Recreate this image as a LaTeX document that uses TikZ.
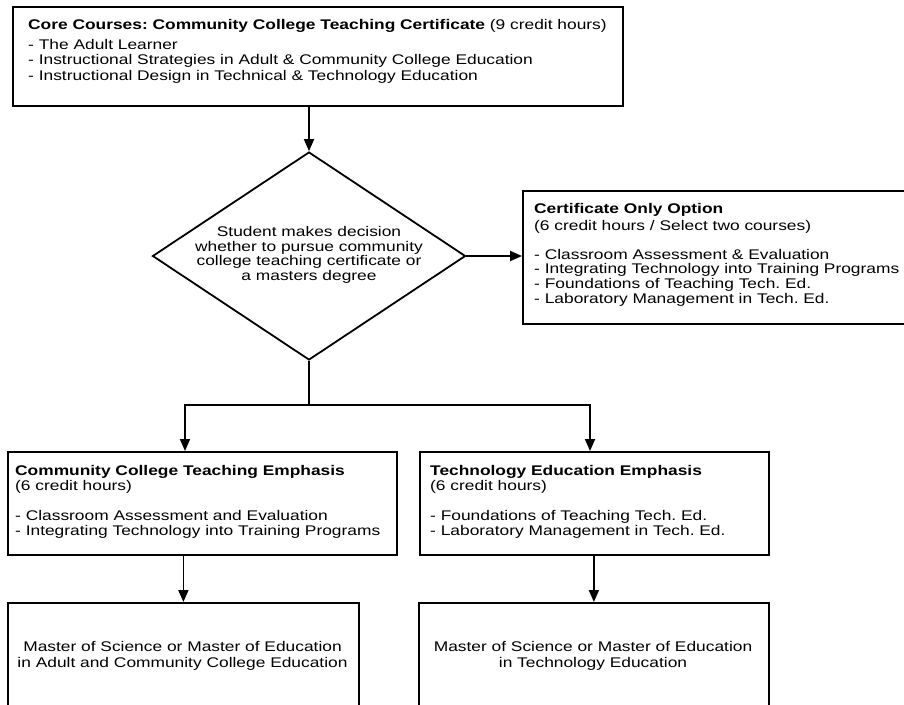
\documentclass[tikz,border=0pt]{standalone}
\usepackage{fontspec}
\setmainfont{Liberation Sans}[FakeStretch=1.24]
\usetikzlibrary{shapes.geometric,arrows.meta}
\frenchspacing
\begin{document}
\begin{tikzpicture}[x=1pt,y=-1pt,
  box/.style={draw, line width=1.8pt, inner sep=0pt, anchor=north west},
  txt/.style={inner sep=0pt, anchor=north west, align=left},
  ctxt/.style={inner sep=0pt, anchor=north, align=center},
  conn/.style={line width=1.8pt},
  arr/.style={conn, -{Triangle[length=12pt,width=10pt]}}]
\useasboundingbox (0,0) rectangle (904,704);
\clip (0,0) rectangle (904,704);
\fill[white] (0,0) rectangle (904,704);
% boxes
\node[box, minimum width=610pt, minimum height=99pt] (core) at (12,6) {};
\node[draw, diamond, line width=1.8pt, minimum width=313pt, minimum height=208pt, inner sep=0pt] (dec) at (309,256) {};
\node[box, minimum width=400pt, minimum height=133pt] (cert) at (522,190) {};
\node[box, minimum width=389pt, minimum height=103pt] (cce) at (7,451) {};
\node[box, minimum width=349pt, minimum height=103pt] (tee) at (419,451) {};
\node[box, minimum width=351pt, minimum height=130pt] (ccm) at (7,602) {};
\node[box, minimum width=350pt, minimum height=130pt] (tem) at (418,602) {};
% texts
\node[txt, font=\fontsize{14}{15.5}\selectfont] (coreT) at (28,18) {\rule{0pt}{11pt}\textbf{Core Courses: Community College Teaching Certificate} (9 credit hours)\\[4.5pt]
- The Adult Learner\\
- Instructional Strategies in Adult \& Community College Education\\
- Instructional Design in Technical \& Technology Education};
\node[ctxt, font=\fontsize{14}{14.4}\selectfont] (decT) at (309,225.7) {\rule{0pt}{11pt}Student makes decision\\
whether to pursue community\\
college teaching certificate or\\
a masters degree};
\node[txt, font=\fontsize{14}{14.7}\selectfont] (certT) at (534,202.5) {\rule{0pt}{11pt}\textbf{Certificate Only Option}\\[1.8pt]
(6 credit hours / Select two courses)\\[14.3pt]
- Classroom Assessment \& Evaluation\\
- Integrating Technology into Training Programs\\
- Foundations of Teaching Tech. Ed.\\
- Laboratory Management in Tech. Ed.};
\node[txt, font=\fontsize{14}{15.5}\selectfont] (cceT) at (15,464) {\rule{0pt}{11pt}\textbf{Community College Teaching Emphasis}\\
(6 credit hours)\\[14pt]
- Classroom Assessment and Evaluation\\
- Integrating Technology into Training Programs};
\node[txt, font=\fontsize{14}{15.5}\selectfont] (teeT) at (430,464) {\rule{0pt}{11pt}\textbf{Technology Education Emphasis}\\
(6 credit hours)\\[14pt]
- Foundations of Teaching Tech. Ed.\\
- Laboratory Management in Tech. Ed.};
\node[ctxt, font=\fontsize{14}{15.5}\selectfont] (ccmT) at (182.5,640.5) {\rule{0pt}{11pt}Master of Science or Master of Education\\
in Adult and Community College Education};
\node[ctxt, font=\fontsize{14}{15.5}\selectfont] (temT) at (593,640.5) {\rule{0pt}{11pt}Master of Science or Master of Education\\
in Technology Education};
% connectors
\coordinate (split) at (309,405);
\coordinate (jl) at (185,405);
\coordinate (jr) at (590,405);
\draw[arr] (dec.north |- core.south) -- (dec.north);
\draw[arr] (dec.east) -- (cert.west |- dec.east);
\draw[conn] (dec.south) -- (split);
\draw[arr] (split) -- (jl) -- (jl |- cce.north);
\draw[arr] (split) -- (jr) -- (jr |- tee.north);
\draw[arr] (ccm.north |- cce.south) -- (ccm.north);
\draw[arr] (tem.north |- tee.south) -- (tem.north);
\end{tikzpicture}
\end{document}
